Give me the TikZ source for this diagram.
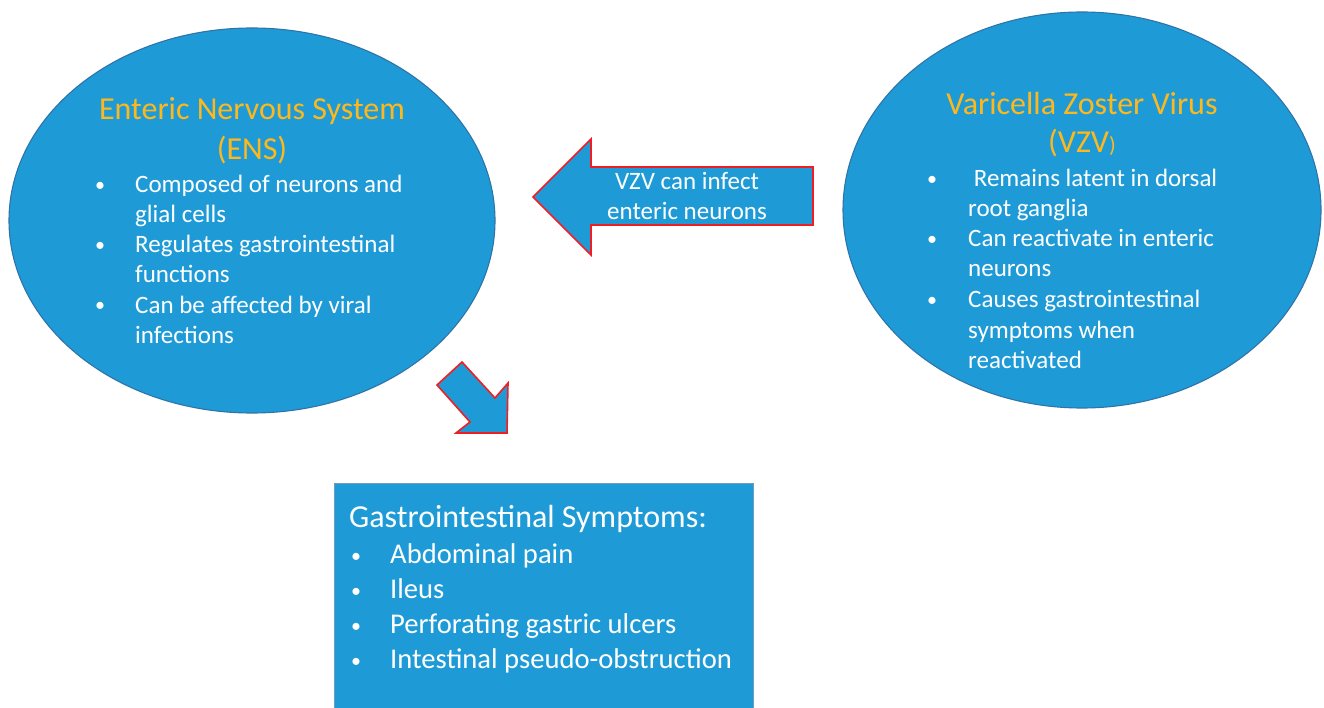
\documentclass[tikz,border=0pt]{standalone}
\usepackage{fontspec}
\setmainfont{Carlito}
\definecolor{fillblue}{HTML}{1E9BD7}
\definecolor{edgeblue}{HTML}{2F74A8}
\definecolor{titleorange}{HTML}{FFB81C}
\definecolor{arrowred}{HTML}{F01E23}
\begin{document}
\begin{tikzpicture}[x=1pt,y=-1pt,
  blob/.style={draw=edgeblue, line width=1.1pt, fill=fillblue},
  blockarrow/.style={draw=arrowred, line width=1.6pt, fill=fillblue, line join=miter},
  ttl/.style={font=\fontsize{32}{40}\selectfont, text=titleorange, inner sep=0pt, anchor=base},
  body/.style={font=\fontsize{25}{30}\selectfont, text=white, inner sep=0pt, anchor=base west},
  bodyc/.style={font=\fontsize{25}{30}\selectfont, text=white, inner sep=0pt, anchor=base},
  boxtxt/.style={font=\fontsize{28.6}{35}\selectfont, text=white, inner sep=0pt, anchor=base west},
  boxttl/.style={font=\fontsize{32}{36}\selectfont, text=white, inner sep=0pt, anchor=base west},
  dot/.style={font=\fontsize{20}{30}\selectfont, text=white, inner sep=0pt, anchor=base}]
\useasboundingbox (0,0) rectangle (1324,708);
\fill[white] (0,0) rectangle (1324,708);

% ellipses
\draw[blob] (252,220.5) ellipse [x radius=243, y radius=192.5];
\draw[blob] (1082,210) ellipse [x radius=239, y radius=198];

% symptom box
\draw[draw=edgeblue!70, line width=0.8pt, fill=fillblue] (334,483) rectangle (753,708);

% left block arrow
\coordinate (la1) at (533,197);
\coordinate (la2) at (591,139);
\coordinate (la3) at (591,167);
\coordinate (la4) at (813,167);
\coordinate (la5) at (813,225);
\coordinate (la6) at (591,225);
\coordinate (la7) at (591,255);
\draw[blockarrow] (la1) -- (la2) -- (la3) -- (la4) -- (la5) -- (la6) -- (la7) -- cycle;

% diagonal block arrow
\coordinate (da1) at (462,362);
\coordinate (da2) at (495,398);
\coordinate (da3) at (508,383);
\coordinate (da4) at (507,433);
\coordinate (da5) at (456,433);
\coordinate (da6) at (470,422);
\coordinate (da7) at (437,385);
\draw[blockarrow] (da1) -- (da2) -- (da3) -- (da4) -- (da5) -- (da6) -- (da7) -- cycle;

% arrow label
\node[bodyc] (al1) at (687,190) {VZV can infect};
\node[bodyc] (al2) at (687,220) {enteric neurons};

% left ellipse text
\node[ttl] (lt1) at (252,120) {Enteric Nervous System};
\node[ttl] (lt2) at (252,160) {(ENS)};
\node[dot] (lb1) at (100,192) {•};
\node[body] (l1) at (135,193) {Composed of neurons and};
\node[body] (l2) at (135,223) {glial cells};
\node[dot] (lb2) at (100,252) {•};
\node[body] (l3) at (135,253) {Regulates gastrointestinal};
\node[body] (l4) at (135,283) {functions};
\node[dot] (lb3) at (100,312) {•};
\node[body] (l5) at (135,313) {Can be affected by viral};
\node[body] (l6) at (135,343) {infections};

% right ellipse text
\node[ttl] (rt1) at (1082,115) {Varicella Zoster Virus};
\node[ttl] (rt2) at (1082,153) {(VZV{\fontsize{22}{26}\selectfont)}};
\node[dot] (rb1) at (932,186) {•};
\node[body] (r1) at (968,187) {\ Remains latent in dorsal};
\node[body] (r2) at (968,217) {root ganglia};
\node[dot] (rb2) at (932,246) {•};
\node[body] (r3) at (968,247) {Can reactivate in enteric};
\node[body] (r4) at (968,277) {neurons};
\node[dot] (rb3) at (932,307) {•};
\node[body] (r5) at (968,308) {Causes gastrointestinal};
\node[body] (r6) at (968,338) {symptoms when};
\node[body] (r7) at (968,368) {reactivated};

% box text
\node[boxttl] (bt) at (349,527) {Gastrointestinal Symptoms:};
\node[dot] (bb1) at (356,562) {•};
\node[boxtxt] (b1) at (390,563) {Abdominal pain};
\node[dot] (bb2) at (356,597) {•};
\node[boxtxt] (b2) at (390,598) {Ileus};
\node[dot] (bb3) at (356,632) {•};
\node[boxtxt] (b3) at (390,633) {Perforating gastric ulcers};
\node[dot] (bb4) at (356,667) {•};
\node[boxtxt] (b4) at (390,668) {Intestinal pseudo-obstruction};
\end{tikzpicture}
\end{document}
